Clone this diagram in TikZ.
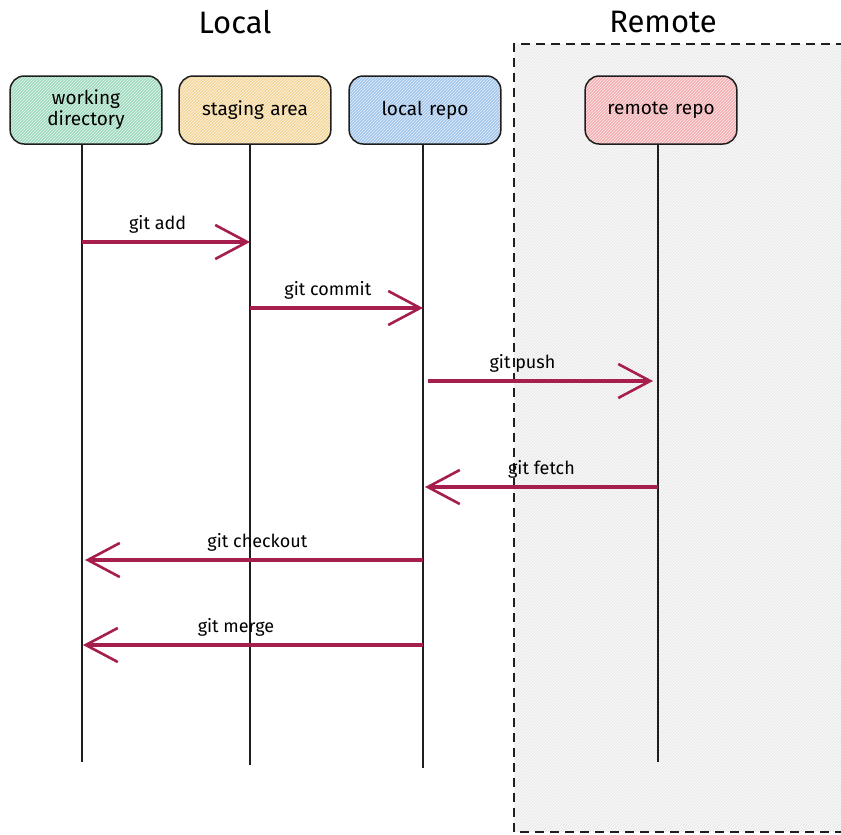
\documentclass[tikz,border=0pt]{standalone}
\usepackage{fontspec}
\setmainfont{Fira Sans}
\usepackage{xcolor}
\usetikzlibrary{arrows.meta,patterns}
\definecolor{vdarkgray}{HTML}{1e1e1e}
\definecolor{vcrimson}{HTML}{a61e4d}
\definecolor{vgreen}{HTML}{9fdabf}
\definecolor{vorange}{HTML}{f5d69a}
\definecolor{vblue}{HTML}{a3c6ec}
\definecolor{vred}{HTML}{f4b0b3}
\definecolor{vremote}{HTML}{ebebeb}

\tikzset{
	repobox/.style={draw=vdarkgray, line width=1.5pt, rounded corners=14pt, minimum width=150pt, minimum height=68pt, align=center, font=\fontsize{19}{21}\selectfont, text width=145pt, preaction={fill=#1}, pattern=north east lines, pattern color=white!75!#1},
	lifeline/.style={draw=vdarkgray, line width=1.4pt},
	gitarrow/.style={draw=vcrimson, line width=3.2pt, -{Straight Barb[length=32pt, width=34pt, line width=2.6pt]}},
	cmd/.style={font=\fontsize{18}{20}\selectfont, anchor=south},
	title/.style={font=\fontsize{31}{34}\selectfont},
}

\begin{document}
\begin{tikzpicture}[x=1pt, y=-1pt]
		\clip (0,0) rectangle (841,835);
		\fill[white] (0,0) rectangle (841,835);
		% remote area
		\path[preaction={fill=vremote}, pattern=north east lines, pattern color=white] (514,44) rectangle (860,832);
		\draw[vdarkgray, line width=1.5pt, dash pattern=on 9pt off 6pt] (860,44) -- (514,44) -- (514,832) -- (860,832);
		\node[title] (local) at (235,22) {Local};
		\node[title] (remote) at (663,22) {Remote};
		% repositories
		\node[repobox=vgreen] (wd) at (86,110) {working\\directory};
		\node[repobox=vorange] (sa) at (255,110) {staging area};
		\node[repobox=vblue] (lr) at (425,110) {local repo};
		\node[repobox=vred] (rr) at (661,110) {remote repo};
		% lifelines
		\coordinate (wdend) at (82,762);
		\coordinate (saend) at (250,765);
		\coordinate (lrend) at (423,768);
		\coordinate (rrend) at (658,762);
		\draw[lifeline] (wd.south -| wdend) -- (wdend);
		\draw[lifeline] (sa.south -| saend) -- (saend);
		\draw[lifeline] (lr.south -| lrend) -- (lrend);
		\draw[lifeline] (rr.south -| rrend) -- (rrend);
		% commands
		\draw[gitarrow] (wdend |- 0,242) -- (saend |- 0,242) node[cmd, pos=.45, yshift=4pt] (add) {git add};
		\draw[gitarrow] (saend |- 0,308) -- (lrend |- 0,308) node[cmd, pos=.45, yshift=4pt] (commit) {git commit};
		\draw[gitarrow] (lrend |- 0,381) ++(5,0) -- ([xshift=-5pt]rrend |- 0,381) node[cmd, pos=.42, yshift=4pt] (push) {git push};
		\draw[gitarrow] (rrend |- 0,487) -- ([xshift=2pt]lrend |- 0,487) node[cmd, pos=.5, yshift=4pt] (fetch) {git fetch};
		\draw[gitarrow] (lrend |- 0,560) -- ([xshift=3pt]wdend |- 0,560) node[cmd, pos=.49, yshift=4pt] (checkout) {git checkout};
		\draw[gitarrow] (lrend |- 0,645) -- ([xshift=1pt]wdend |- 0,645) node[cmd, pos=.55, yshift=4pt] (merge) {git merge};
	\end{tikzpicture}
\end{document}
